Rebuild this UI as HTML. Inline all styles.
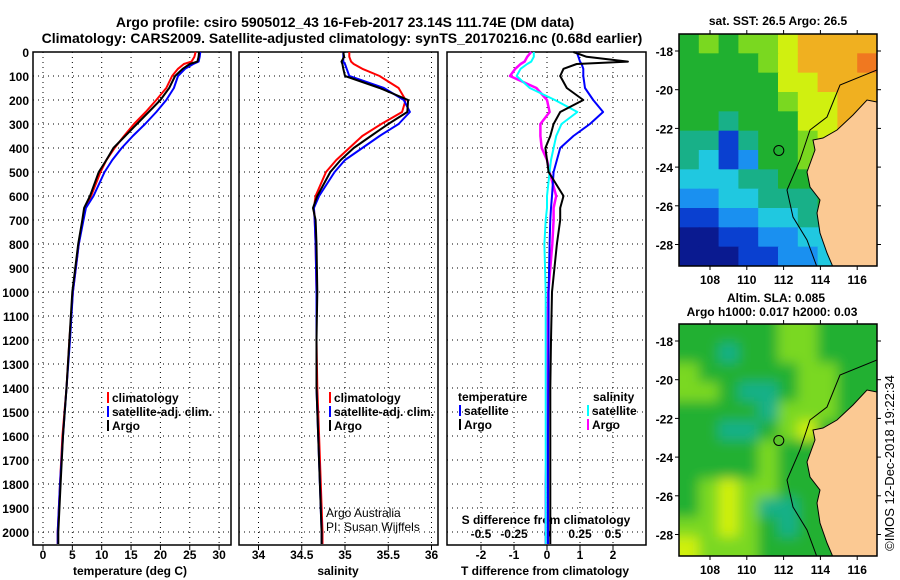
<!DOCTYPE html>
<html><head><meta charset="utf-8">
<style>
html,body{margin:0;padding:0;background:#fff;}
svg{display:block;font-family:"Liberation Sans",sans-serif;}
.b{font-weight:bold;font-size:12px;}
</style></head>
<body>
<svg id="c" width="900" height="580" viewBox="0 0 900 580">
<text x="345" y="27" text-anchor="middle" style="font-weight:bold;font-size:14px">Argo profile: csiro 5905012_43 16-Feb-2017 23.14S 111.74E (DM data)</text>
<text x="342" y="43" text-anchor="middle" style="font-weight:bold;font-size:14px">Climatology: CARS2009. Satellite-adjusted climatology: synTS_20170216.nc (0.68d earlier)</text>
<g id="g"></g>
</svg>
<script>
// ---------- data ----------
const depthTicks=[0,100,200,300,400,500,600,700,800,900,1000,1100,1200,1300,1400,1500,1600,1700,1800,1900,2000];
const tempTicks=[0,5,10,15,20,25,30];
const salTicks=[34,34.5,35,35.5,36];
const dtTicks=[-2,-1,0,1,2];
const dsTicks=[-0.5,-0.25,0,0.25,0.5];
const dsTickLabels=["-0.5","-0.25","0","0.25","0.5"];
const depths=[0,20,40,50,70,100,150,200,250,300,350,400,450,500,600,650,700,800,1000,1200,1400,1600,1800,2000,2050];
const tempArgo=[26.6,26.5,26.3,25,23.8,22.5,21.5,20,18,16,14,12,10.8,9.5,8,7,6.7,6,5,4.5,4,3.4,3,2.6,2.6];
const tempClim=[26,25.8,25.3,24,23,22,21,19.3,17.5,15.5,13.8,12.2,10.8,9.8,8.2,7.2,6.8,6.1,5.1,4.5,4,3.3,2.9,2.5,2.5];
const tempSat=[26.8,26.7,26.5,25.6,24.2,23,22.3,21,19.3,17.4,15.3,13.4,11.8,10.5,8.6,7.3,6.9,6.1,5.1,4.6,4,3.4,2.9,2.5,2.5];
const salArgo=[34.98,34.99,34.96,34.97,34.98,35.0,35.4,35.73,35.72,35.5,35.3,35.1,34.95,34.83,34.68,34.63,34.66,34.67,34.68,34.67,34.67,34.69,34.71,34.73,34.73];
const salClim=[35.05,35.05,35.07,35.1,35.2,35.4,35.62,35.7,35.66,35.42,35.2,35.05,34.9,34.78,34.66,34.64,34.65,34.66,34.67,34.67,34.68,34.7,34.72,34.74,34.74];
const salSat=[34.98,34.98,34.98,35.0,35.02,35.05,35.45,35.68,35.75,35.62,35.4,35.2,35.0,34.88,34.7,34.64,34.65,34.66,34.67,34.67,34.67,34.69,34.71,34.73,34.73];
const dtArgo=[0.8,1.2,2.45,0.9,0.5,0.4,0.6,1.1,0.4,0.2,0.1,-0.05,0.0,0.05,0.5,0.4,0.4,0.3,0.15,0.12,0.1,0.1,0.1,0.1,0.1];
const dtSat=[0.9,0.95,1.0,1.05,1.1,1.1,1.15,1.4,1.7,1.3,0.8,0.4,0.3,0.2,0.15,0.12,0.1,0.08,0.05,0.05,0.04,0.03,0.03,0.03,0.03];
const dsSat=[-0.1,-0.1,-0.12,-0.15,-0.2,-0.23,-0.13,0.06,0.23,0.11,0.07,0.05,0.03,0.02,0.0,0.0,-0.01,-0.02,-0.01,-0.01,-0.01,-0.01,-0.01,-0.01,-0.01];
const dsArgo=[-0.12,-0.15,-0.17,-0.2,-0.24,-0.28,-0.08,0.0,0.02,-0.05,-0.05,-0.04,0.0,0.02,0.07,0.05,0.05,0.04,0.01,0.0,0.0,0.0,-0.01,-0.01,-0.01];
const sstGrid=["5656678888","5555678889","5555577888","5555567788","5545557788","4414556777","4312556666","3334455666","2233444555","1122334444","0011223333","0001122333"];
const slaGrid=["5555566555","5545566555","6555556655","6654456655","5555466655","5544567555","5555655555","5555655555","5676655555","5676445555","6676545555","7666555555"];
const lonTicks=[108,110,112,114,116];
const latTicks=[-18,-20,-22,-24,-26,-28];
// ---------- helpers ----------
const NS="http://www.w3.org/2000/svg";
const G=document.getElementById('g');
function el(t,a,p){const e=document.createElementNS(NS,t);for(const k in a)e.setAttribute(k,a[k]);(p||G).appendChild(e);return e;}
const yD=d=>52+0.24*d;
const xT=t=>43+5.87*t;
const xS=s=>345+86.5*(s-35);
const xDT=t=>547+33*t;
const xDS=s=>547+132*s;
const panels=[[33,231],[239,438],[447,646]];
const PB=545;
panels.forEach((p,i)=>{
  depthTicks.forEach(d=>{if(d>0){const l=el('line',{x1:p[0],x2:p[1],y1:yD(d),y2:yD(d),stroke:'#000','stroke-width':1,'stroke-dasharray':'1,4'});
  
  }});
  const xs=i==0?tempTicks.map(xT):i==1?salTicks.map(xS):dtTicks.map(xDT);
  xs.forEach(x=>{const l=el('line',{x1:x,x2:x,y1:52,y2:PB,stroke:'#000','stroke-width':1,'stroke-dasharray':'1,4'});
  
  
  const t=el('line',{x1:x,x2:x,y1:PB,y2:PB+5,stroke:'#000'});
  
  });
  const r=el('rect',{x:p[0],y:52,width:p[1]-p[0],height:PB-52,fill:'none',stroke:'#000','stroke-width':1.5});
  
  
});
depthTicks.forEach(d=>{const t=el('text',{x:29,y:yD(d)+5,'text-anchor':'end',class:'b'});t.textContent=d;

});
function lbl(x,y,s,name,anchor){const t=el('text',{x:x,y:y,'text-anchor':anchor||'middle',class:'b'});t.textContent=s;

return t;}
tempTicks.forEach(v=>lbl(xT(v),559,v,'temp-tick-label'));
salTicks.forEach(v=>lbl(xS(v),559,v,'salinity-tick-label'));
dtTicks.forEach(v=>lbl(xDT(v),559,v,'tdiff-tick-label'));
dsTicks.forEach((v,i)=>lbl(xDS(v),538,dsTickLabels[i],'sdiff-tick-label'));
lbl(130,575,'temperature (deg C)','temp-axis-title');
lbl(338,575,'salinity','salinity-axis-title');
lbl(545,575,'T difference from climatology','tdiff-axis-title');
lbl(546,524,'S difference from climatology','sdiff-axis-title');
function line(xf,vals,col,w,name){const pts=depths.map((d,i)=>xf(vals[i]).toFixed(1)+','+yD(Math.min(d,2054)).toFixed(1)).join(' ');
const l=el('polyline',{points:pts,fill:'none',stroke:col,'stroke-width':w,'stroke-linejoin':'round'});

}
line(xT,tempClim,'#f00',2,'temp-climatology-line');
line(xT,tempSat,'#00f',2,'temp-satellite-line');
line(xT,tempArgo,'#000',2,'temp-argo-line');
line(xS,salClim,'#f00',2,'salinity-climatology-line');
line(xS,salSat,'#00f',2,'salinity-satellite-line');
line(xS,salArgo,'#000',2,'salinity-argo-line');
line(xDS,dsArgo,'#f0f',2.5,'sdiff-argo-line');
line(xDS,dsSat,'#0ff',2,'sdiff-satellite-line');
line(xDT,dtSat,'#00f',2,'tdiff-satellite-line');
line(xDT,dtArgo,'#000',2,'tdiff-argo-line');
function leg(x,y,col,txt,name){const r=el('rect',{x:x,y:y-10,width:2,height:11,fill:col});


const t=el('text',{x:x+5,y:y,class:'b'});t.textContent=txt;

}
[[107,'#f00','climatology'],[107,'#00f','satellite-adj. clim.'],[107,'#000','Argo']].forEach((a,i)=>leg(a[0],402+i*14,a[1],a[2],'legend-temp-'+i));
[[329,'#f00','climatology'],[329,'#00f','satellite-adj. clim.'],[329,'#000','Argo']].forEach((a,i)=>leg(a[0],402+i*14,a[1],a[2],'legend-sal-'+i));
lbl(458,401,'temperature','legend-tdiff-title','start');
lbl(593,401,'salinity','legend-sdiff-title','start');
leg(459,415,'#00f','satellite','legend-tdiff-sat');leg(459,429,'#000','Argo','legend-tdiff-argo');
leg(587,415,'#0ff','satellite','legend-sdiff-sat');leg(587,429,'#f0f','Argo','legend-sdiff-argo');
const a1=el('text',{x:326,y:517,'font-size':12});a1.textContent='Argo Australia';


const a2=el('text',{x:326,y:531,'font-size':12});a2.textContent='PI: Susan Wijffels';


// maps
const cmap=['#0a1a90','#0a40d0','#1a90f0','#20c8e0','#18b088','#20b030','#7ad820','#d0f010','#f0b020','#f07820'];
const MX0=679,MX1=877;
const xLon=l=>710+18.4*(l-108);
function drawMap(y0,y1,grid,name,blur){
  const yLat=l=>y0+17+19.35*(-18-l);
  const g=el('g',{});
  
  
  const cp=el('clipPath',{id:'cp'+name},g);el('rect',{x:MX0,y:y0,width:MX1-MX0,height:y1-y0},cp);
  const outer=el('g',{'clip-path':'url(#cp'+name+')'},g);
  const cg=el('g',{},outer);
  if(blur){const f=el('filter',{id:'f'+name,x:'-10%',y:'-10%',width:'120%',height:'120%'},g);el('feGaussianBlur',{stdDeviation:6},f);cg.setAttribute('filter','url(#f'+name+')');}
  const rows=grid.length,cols=grid[0].length,cw=(MX1-MX0)/cols,ch=(y1-y0)/rows,e=blur?15:0;
  grid.forEach((r,i)=>{for(let j=0;j<cols;j++){
    const x0=MX0+j*cw-(j==0?e:0),yy=y0+i*ch-(i==0?e:0);
    const w=cw+1+(j==0?e:0)+(j==cols-1?e:0),h=ch+1+(i==0?e:0)+(i==rows-1?e:0);
    const c=el('rect',{x:x0,y:yy,width:w,height:h,fill:cmap[+r[j]]},cg);
    
    }});
  const o=y0-34;
  const contour=[[877,70],[840,85],[827,117],[810,130],[800,160],[787,190],[793,217],[807,240],[817,267]].map(p=>p[0]+','+(p[1]+o)).join(' ');
  el('polyline',{points:contour,fill:'none',stroke:'#000','stroke-width':1},outer);
  const land=[[877,102],[867,100],[853,115],[837,130],[823,138],[813,140],[815,150],[807,172],[810,187],[820,200],[817,213],[820,233],[827,253],[833,267],[877,267]].map(p=>p[0]+','+(p[1]+o)).join(' ');
  const lp=el('polygon',{points:land,fill:'#fbc993',stroke:'#000','stroke-width':1},outer);
  
  
  const cc=el('circle',{cx:xLon(111.74),cy:yLat(-23.14),r:5,fill:'none',stroke:'#000'},g);
  
  
  el('rect',{x:MX0,y:y0,width:MX1-MX0,height:y1-y0,fill:'none',stroke:'#000','stroke-width':1.5},g);
  lonTicks.forEach(l=>{el('line',{x1:xLon(l),x2:xLon(l),y1:y0-4,y2:y0,stroke:'#000'},g);el('line',{x1:xLon(l),x2:xLon(l),y1:y1,y2:y1+4,stroke:'#000'},g);
    const t=el('text',{x:xLon(l),y:y1+18,'text-anchor':'middle',class:'b'},g);t.textContent=l;
    
    });
  latTicks.forEach(l=>{el('line',{x1:MX0-4,x2:MX0,y1:yLat(l),y2:yLat(l),stroke:'#000'},g);el('line',{x1:MX1,x2:MX1+4,y1:yLat(l),y2:yLat(l),stroke:'#000'},g);
    const t=el('text',{x:673,y:yLat(l)+5,'text-anchor':'end',class:'b'},g);t.textContent=l;
    
    });
}
drawMap(34,266,sstGrid,'sst-map',false);
drawMap(324,556,slaGrid,'sla-map',true);
lbl(778,25,'sat. SST: 26.5 Argo: 26.5','sst-map-title');
lbl(776,302,'Altim. SLA: 0.085','sla-map-title');
lbl(772,316,'Argo h1000: 0.017 h2000: 0.03','sla-map-subtitle');
const ts=el('text',{x:0,y:0,'font-size':13,'text-anchor':'middle',transform:'translate(894,463) rotate(-90)'});ts.textContent='©IMOS 12-Dec-2018 19:22:34';


</script>
</body></html>
